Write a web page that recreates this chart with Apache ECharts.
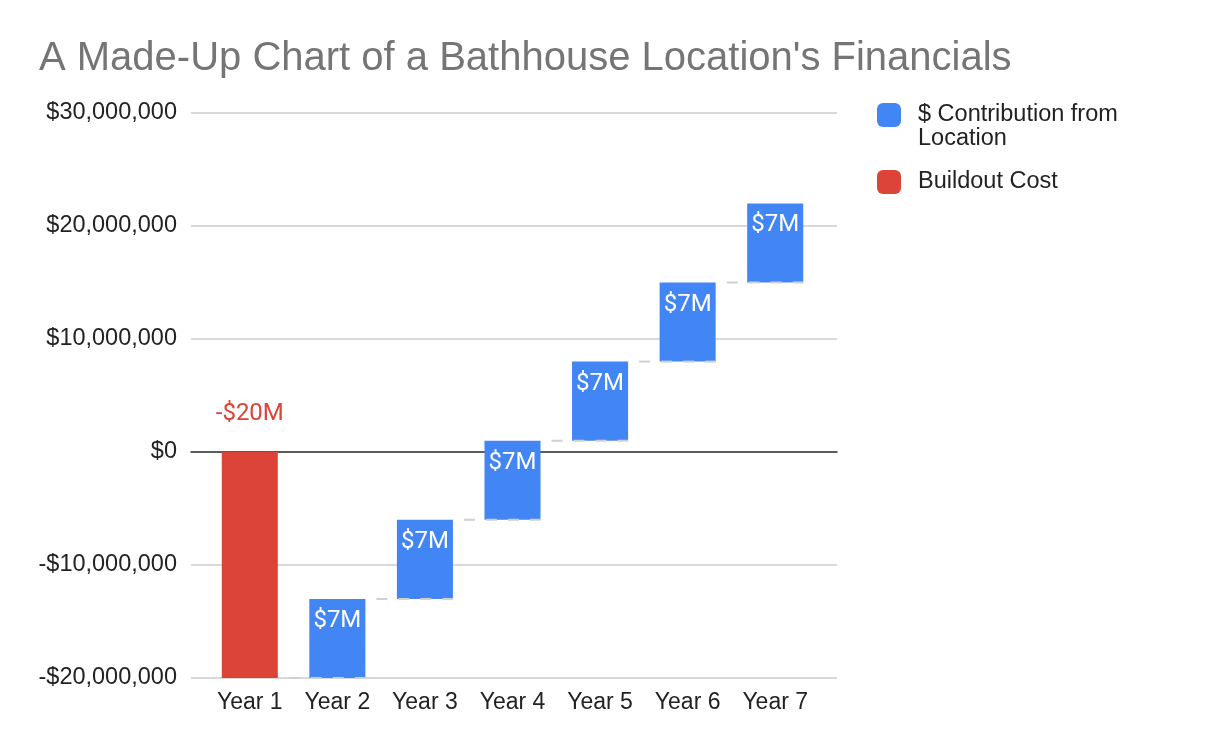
<!DOCTYPE html>
<html>
<head>
<meta charset="utf-8">
<script src="https://cdn.jsdelivr.net/npm/echarts@6/dist/echarts.min.js"></script>
<style>
  html, body { margin: 0; padding: 0; background: #fff; }
  #main { width: 1216px; height: 752px; }
</style>
</head>
<body>
<div id="main"></div>
<script>
var years = ['Year 1', 'Year 2', 'Year 3', 'Year 4', 'Year 5', 'Year 6', 'Year 7'];
var contribution = [null, 7000000, 7000000, 7000000, 7000000, 7000000, 7000000];
var buildout = [-20000000, null, null, null, null, null, null];
var yTicks = { min: -20000000, max: 30000000, interval: 10000000 };

// running total -> invisible base of each floating bar
var bases = [];
var ends = [];
var total = 0;
for (var i = 0; i < years.length; i++) {
  bases.push(total);
  total += (contribution[i] || 0) + (buildout[i] || 0);
  ends.push(total);
}
var connectors = [];
for (var i = 1; i < years.length; i++) {
  connectors.push([i, ends[i - 1]]);
}

function money(v) {
  var s = Math.abs(v).toString().replace(/\B(?=(\d{3})+(?!\d))/g, ',');
  return (v < 0 ? '-$' : '$') + s;
}
function short(v) {
  if (!v) return '';
  return (v < 0 ? '-$' : '$') + Math.abs(v) / 1000000 + 'M';
}

var chart = echarts.init(document.getElementById('main'));
var font = 'Arial, "Liberation Sans", sans-serif';
var barW = 0.64;

var option = {
  animation: false,
  textStyle: { fontFamily: font },
  title: {
    text: "A Made-Up Chart of a Bathhouse Location's Financials",
    left: 34,
    top: 34,
    textStyle: { fontSize: 40, fontWeight: 'normal', color: '#757575', fontFamily: font }
  },
  legend: {
    orient: 'vertical',
    left: 877,
    top: 79,
    padding: 0,
    itemGap: 19,
    itemWidth: 24,
    itemHeight: 24,
    icon: 'roundRect',
    selectedMode: false,
    formatter: function (name) {
      return name == '$ Contribution from Location' ? '\n$ Contribution from\nLocation' : name;
    },
    textStyle: { fontSize: 23.5, color: '#222', lineHeight: 24, fontFamily: font, padding: [0, 0, 0, 12] },
    data: ['$ Contribution from Location', 'Buildout Cost']
  },
  grid: [
    { left: 191, right: 379, top: 113, bottom: 74 },
    { left: 206, right: 397, top: 113, bottom: 74 }
  ],
  xAxis: [
    {
      gridIndex: 0, type: 'value', min: 0, max: 1,
      axisLabel: { show: false }, axisTick: { show: false }, splitLine: { show: false },
      axisLine: { show: true, onZero: true, lineStyle: { color: '#333', width: 1.5 } }
    },
    {
      gridIndex: 1, type: 'category', data: years,
      axisLine: { show: false }, axisTick: { show: false },
      axisLabel: { fontSize: 23, color: '#222', margin: 13, fontFamily: font }
    }
  ],
  yAxis: [
    {
      gridIndex: 0, type: 'value',
      min: yTicks.min, max: yTicks.max, interval: yTicks.interval,
      axisLine: { show: false }, axisTick: { show: false },
      axisLabel: { fontSize: 23.5, color: '#222', margin: 14, formatter: money, fontFamily: font },
      splitLine: { lineStyle: { color: '#cccccc', width: 1.5 } }
    },
    {
      gridIndex: 1, type: 'value', show: false,
      min: yTicks.min, max: yTicks.max, interval: yTicks.interval,
      splitLine: { show: false }
    }
  ],
  series: [
    {
      name: 'base', type: 'bar', stack: 'w', stackStrategy: 'all',
      xAxisIndex: 1, yAxisIndex: 1, barWidth: barW * 100 + '%', silent: true,
      itemStyle: { color: 'transparent' },
      data: bases
    },
    {
      name: '$ Contribution from Location', type: 'bar', stack: 'w', stackStrategy: 'all',
      xAxisIndex: 1, yAxisIndex: 1, barWidth: barW * 100 + '%',
      itemStyle: { color: '#4285f4' },
      label: {
        show: true, position: 'insideTop', distance: 10, color: '#fff',
        fontSize: 24, fontFamily: 'Roboto', formatter: function (p) { return short(p.value); }
      },
      data: contribution.map(function (v) { return v == null ? 0 : v; })
    },
    {
      name: 'Buildout Cost', type: 'bar', stack: 'w', stackStrategy: 'all',
      xAxisIndex: 1, yAxisIndex: 1, barWidth: barW * 100 + '%',
      itemStyle: { color: '#db4437' },
      label: {
        show: true, position: 'top', distance: 26, color: '#db4437',
        fontSize: 24, fontFamily: 'Roboto', formatter: function (p) { return short(p.value); }
      },
      data: buildout.map(function (v) { return v == null ? 0 : v; })
    },
    {
      name: 'connector', type: 'custom', xAxisIndex: 1, yAxisIndex: 1, z: 5, silent: true,
      renderItem: function (params, api) {
        var p = api.coord([api.value(0), api.value(1)]);
        var band = api.size([1, 0])[0];
        var half = band * barW / 2;
        return {
          type: 'line',
          shape: { x1: p[0] - band + half, y1: p[1], x2: p[0] + half, y2: p[1] },
          style: { stroke: '#d0d0d0', lineWidth: 2, lineDash: [11, 11], lineDashOffset: 11 }
        };
      },
      data: connectors
    }
  ]
};

chart.setOption(option);
</script>
</body>
</html>
